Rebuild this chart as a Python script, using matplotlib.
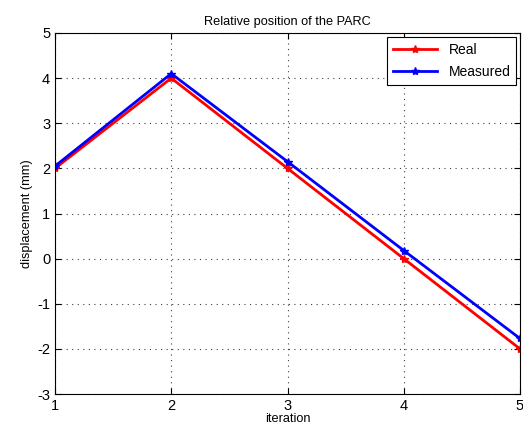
import matplotlib
matplotlib.use('Agg')
import matplotlib.pyplot as plt

# data
iteration = [1, 2, 3, 4, 5]
real = [2, 4, 2, 0, -2]
measured = [2.05, 4.1, 2.15, 0.18, -1.77]

plt.rcParams['font.family'] = ['Liberation Sans', 'DejaVu Sans']
plt.rcParams['font.size'] = 9
plt.rcParams['axes.unicode_minus'] = False

fig = plt.figure(figsize=(5.23, 4.32), dpi=100)
ax = fig.add_axes([55 / 523, 1 - 394 / 432, 465 / 523, 361 / 432])

ax.plot(iteration, real, color='red', lw=2, marker='*', ms=6, label='Real')
ax.plot(iteration, measured, color='blue', lw=2, marker='*', ms=6, label='Measured')

ax.set_xlim(1, 5)
ax.set_ylim(-3, 5)
ax.set_xticks([1, 2, 3, 4, 5])
ax.set_yticks(range(-3, 6))
ax.grid(True, linestyle=(0, (1, 4)), color='#404040', lw=0.8)
ax.tick_params(direction='in', length=4, top=True, right=True, labelsize=10.5)
for s in ax.spines.values():
    s.set_linewidth(0.8)

ax.set_title('Relative position of the PARC', fontsize=9.2)
ax.set_xlabel('iteration', fontsize=9.2, labelpad=0)
ax.set_ylabel('displacement (mm)', fontsize=9.2, labelpad=3)
leg = ax.legend(loc='upper right', fancybox=False, edgecolor='black', framealpha=1,
                fontsize=10, handlelength=3.2, borderaxespad=0.3, labelspacing=0.6)
leg.get_frame().set_linewidth(0.8)

fig.savefig('out.png', dpi=100)
